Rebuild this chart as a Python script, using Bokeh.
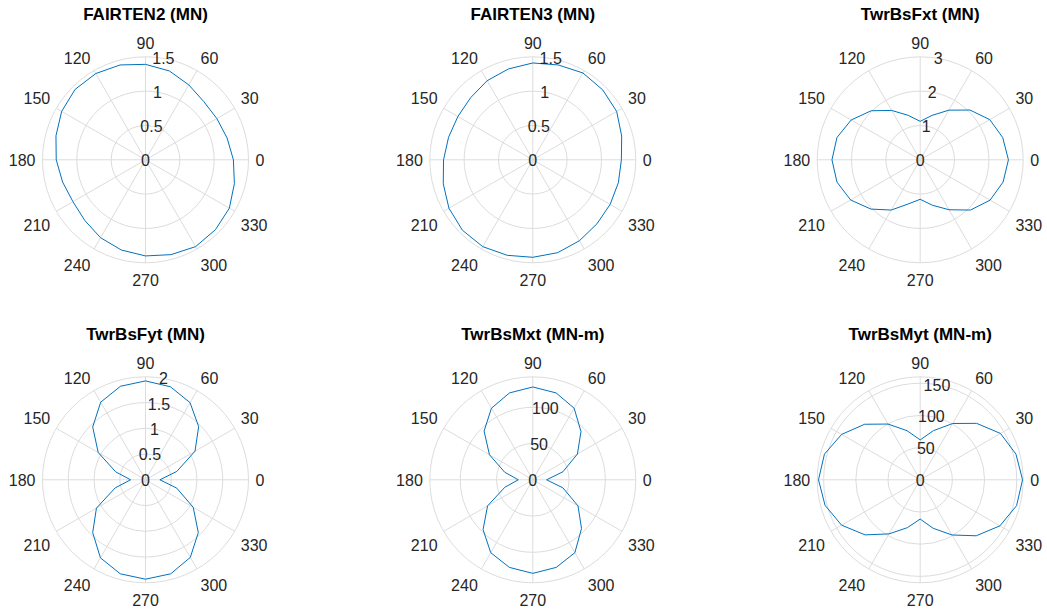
import numpy as np
from bokeh.plotting import figure
from bokeh.layouts import column, row
from bokeh.models import Range1d
from bokeh.core.properties import value
from bokeh.embed import file_html
from bokeh.resources import INLINE

# ---- data: response amplitude vs. wave heading (deg) ----
heading_deg = [0, 15, 30, 45, 60, 75, 90, 105, 120, 135, 150, 165,
               180, 195, 210, 225, 240, 255, 270, 285, 300, 315, 330, 345]

fairten2 = [1.28, 1.23, 1.20, 1.20, 1.26, 1.34, 1.39, 1.43, 1.45, 1.45, 1.41, 1.35,
            1.30, 1.25, 1.22, 1.25, 1.31, 1.36, 1.40, 1.43, 1.46, 1.44, 1.41, 1.34]
fairten3 = [1.29, 1.34, 1.41, 1.44, 1.46, 1.43, 1.41, 1.37, 1.33, 1.28, 1.26, 1.27,
            1.30, 1.35, 1.41, 1.45, 1.46, 1.44, 1.42, 1.40, 1.36, 1.32, 1.30, 1.29]
twrbsfxt = [2.57, 2.49, 2.34, 2.05, 1.67, 1.34, 1.12, 1.34, 1.66, 2.02, 2.32, 2.51,
            2.57, 2.51, 2.34, 2.03, 1.69, 1.33, 1.15, 1.37, 1.68, 2.07, 2.35, 2.50]
twrbsfyt = [0.28, 0.63, 1.11, 1.46, 1.73, 1.87, 1.92, 1.88, 1.74, 1.45, 1.06, 0.60,
            0.29, 0.61, 1.10, 1.45, 1.75, 1.89, 1.93, 1.89, 1.74, 1.45, 1.07, 0.63]
twrbsmxt = [19, 43, 71, 94, 114, 124, 128, 124, 114, 95, 69, 40,
            20, 40, 72, 97, 116, 125, 129, 125, 116, 95, 72, 43]
twrbsmyt = [159, 154, 144, 124, 101, 79, 62, 79, 100, 122, 141, 154,
            158, 153, 141, 121, 97, 77, 61, 78, 99, 123, 143, 155]

series = [fairten2, fairten3, twrbsfxt, twrbsfyt, twrbsmxt, twrbsmyt]
titles = ["FAIRTEN2 (MN)", "FAIRTEN3 (MN)", "TwrBsFxt (MN)",
          "TwrBsFyt (MN)", "TwrBsMxt (MN-m)", "TwrBsMyt (MN-m)"]
r_max = [1.5, 1.5, 3, 2, 142, 160]
r_ticks = [[0, 0.5, 1, 1.5], [0, 0.5, 1, 1.5], [0, 1, 2, 3],
           [0, 0.5, 1, 1.5, 2], [0, 50, 100], [0, 50, 100, 150]]
r_tick_labels = [["0", "0.5", "1", "1.5"], ["0", "0.5", "1", "1.5"], ["0", "1", "2", "3"],
                 ["0", "0.5", "1", "1.5", "2"], ["0", "50", "100"], ["0", "50", "100", "150"]]
theta_ticks = [0, 30, 60, 90, 120, 150, 180, 210, 240, 270, 300, 330]
theta_tick_labels = ["0", "30", "60", "90", "120", "150", "180", "210", "240", "270", "300", "330"]

# ---- styling / layout (pixels) ----
LINE_COLOR = "#0072BD"
GRID_COLOR = "#dcdcdc"
TEXT_COLOR = "#262626"
FONT = "Liberation Sans"
R_PX = 103            # radius of outer circle
LABEL_PX = 110        # radius where angle labels are anchored
TITLE_PX = 145        # title centre height above polar centre
R_LABEL_ANGLE = 80    # angle of radial tick labels

col_widths = [338, 388, 321]
col_centres = [145, 194.3, 193.7]
row_heights = [305, 306]
row_centres = [159.3, 174.3]


def polar_panel(k):
    i, j = divmod(k, 3)
    W, H = col_widths[j], row_heights[i]
    cx, cy = col_centres[j], row_centres[i]
    rmax = r_max[k]
    s = R_PX / rmax  # pixels per data unit
    p = figure(width=W, height=H,
               x_range=Range1d(-cx / s, (W - cx) / s),
               y_range=Range1d(-(H - cy) / s, cy / s),
               output_backend="svg", toolbar_location=None, tools="",
               x_axis_location=None, y_axis_location=None, min_border=0)
    p.grid.visible = False
    p.outline_line_color = None
    p.background_fill_color = "white"
    p.border_fill_color = "white"

    # radial grid circles + outer boundary
    rings = [r for r in r_ticks[k] if r > 0]
    if abs(rings[-1] - rmax) > 1e-9:
        rings.append(rmax)
    p.circle(x=[0] * len(rings), y=[0] * len(rings), radius=rings,
             fill_color=None, line_color=GRID_COLOR, line_width=1)

    # angular spokes
    th = np.deg2rad(theta_ticks)
    p.segment(x0=np.zeros(len(th)), y0=np.zeros(len(th)),
              x1=rmax * np.cos(th), y1=rmax * np.sin(th),
              line_color=GRID_COLOR, line_width=1)

    # data trace (closed)
    a = np.deg2rad(heading_deg + [360])
    r = np.array(series[k] + [series[k][0]])
    p.line(r * np.cos(a), r * np.sin(a), line_color=LINE_COLOR, line_width=1)

    # angle labels
    rl = LABEL_PX / s
    for t, lab in zip(theta_ticks, theta_tick_labels):
        c, sn = np.cos(np.deg2rad(t)), np.sin(np.deg2rad(t))
        align = "left" if c > 0.1 else ("right" if c < -0.1 else "center")
        if sn > 0.1:
            base, yoff = "bottom", -1
        elif sn < -0.1:
            base, yoff = "top", 4
        else:
            base, yoff = "middle", 0
        p.text(x=[rl * c], y=[rl * sn], text=[lab], text_align=align,
               text_baseline=base, y_offset=yoff,
               text_font=value(FONT), text_font_size="16px", text_color=TEXT_COLOR)

    # radial tick labels along 80 deg
    ra = np.deg2rad(R_LABEL_ANGLE)
    rt = np.array(r_ticks[k], dtype=float)
    p.text(x=rt * np.cos(ra), y=rt * np.sin(ra), text=r_tick_labels[k],
           text_align="center", text_baseline="middle",
           text_font=value(FONT), text_font_size="16px", text_color=TEXT_COLOR)

    # title
    p.text(x=[0], y=[TITLE_PX / s], text=[titles[k]], text_align="center",
           text_baseline="middle", text_font=value(FONT), text_font_size="17px",
           text_font_style="bold", text_color="black")
    return p


panels = [polar_panel(k) for k in range(6)]
layout = column(row(*panels[:3], spacing=0), row(*panels[3:], spacing=0), spacing=0)

open("out.html", "w").write(file_html(layout, INLINE))
